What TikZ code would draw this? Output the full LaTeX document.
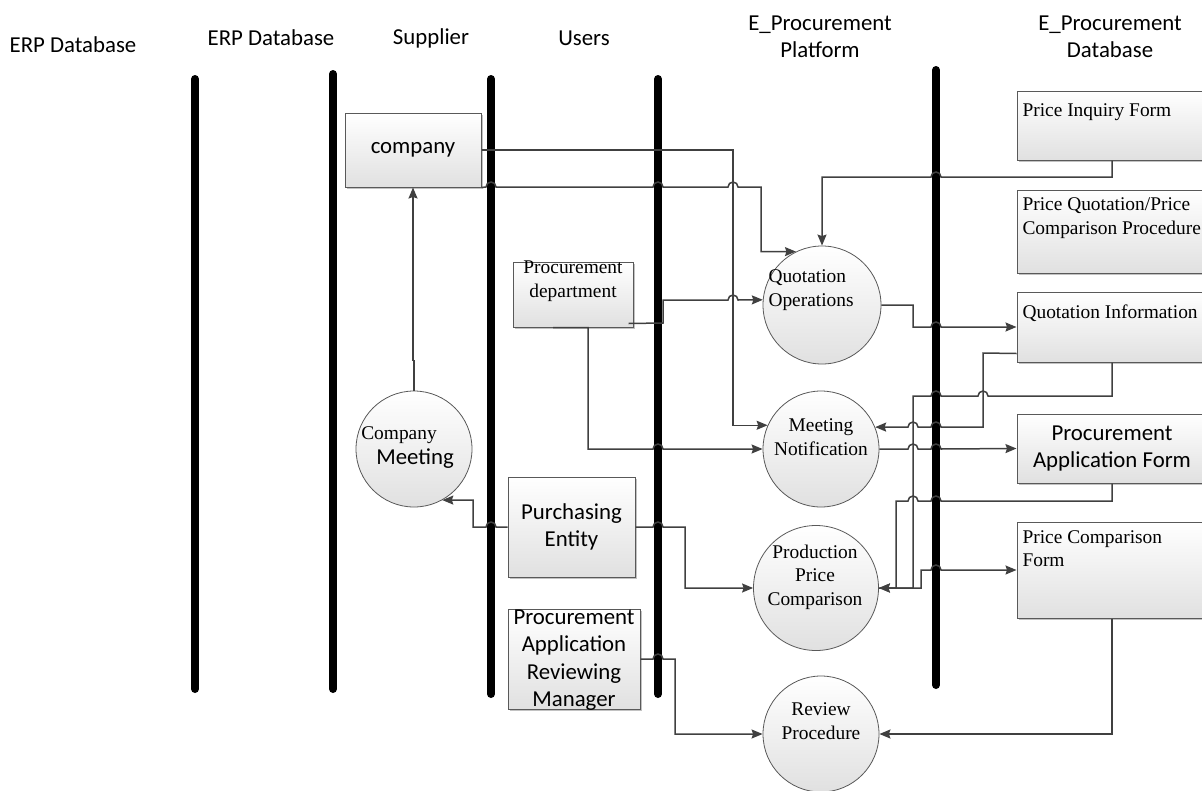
\documentclass[tikz,border=0pt]{standalone}
\usepackage{fontspec}
\setmainfont{Liberation Serif}
\newfontfamily\calfam{Carlito}
\usetikzlibrary{arrows.meta,shadows}
\newcommand\SansTxt{\calfam\fontsize{22.8}{27.5}\selectfont}
\newcommand\SerTxt{\fontsize{19.4}{23.5}\selectfont}
\begin{document}
\begin{tikzpicture}[x=1pt,y=-1pt,
  lane/.style={line width=8pt,line cap=round,black},
  conn/.style={draw=black!75,line width=1.5pt},
  arr/.style={conn,-{Stealth[length=11pt,width=9pt,inset=1.5pt]}},
  box/.style={draw=black!65,line width=1pt,top color=white,bottom color=black!12,
    drop shadow={shadow xshift=2pt,shadow yshift=-2pt,fill=black!40,opacity=.6}},
  circ/.style={circle,draw=black!65,line width=0.8pt,top color=white,bottom color=black!12,inner sep=0pt},
  stxt/.style={font=\SansTxt,align=center},
  rtxt/.style={font=\SerTxt,align=center}]
\useasboundingbox (0,0) rectangle (1202,790);

% headers
\node[stxt] (h1) at (73,45) {ERP Database};
\node[stxt] (h2) at (271,38) {ERP Database};
\node[stxt] (h3) at (431,38) {Supplier};
\node[stxt] (h4) at (584,38) {Users};
\node[stxt] (h5) at (820,37) {E\_Procurement\\Platform};
\node[stxt] (h6) at (1110,37) {E\_Procurement\\Database};

% lanes
\draw[lane] (195,79) -- (195,689);
\draw[lane] (333,74) -- (333,689);
\draw[lane] (491,79) -- (491,694);
\draw[lane] (658,79) -- (658,694);
\draw[lane] (936,70) -- (936,685);

% boxes
\node[box,minimum width=136pt,minimum height=74pt,stxt] (company) at (413,150) {company};
\node[box,minimum width=120pt,minimum height=65pt] (dept) at (573,294.5) {};
\node[rtxt] (deptt) at (573,281) {Procurement\\department};
\node[box,minimum width=127pt,minimum height=100pt,stxt] (pe) at (571.5,527) {Purchasing\\Entity};
\node[box,minimum width=132pt,minimum height=100pt] (parm) at (574,659) {};
\node[stxt] (parmt) at (574,660) {Procurement\\Application\\Reviewing\\Manager};

\node[box,minimum width=190pt,minimum height=69pt] (pif) at (1112,125.5) {};
\node[font=\SerTxt,anchor=west] (pift) at (1019,112) {Price Inquiry Form};
\node[box,minimum width=190pt,minimum height=83pt] (pqp) at (1112,231.5) {};
\node[font=\SerTxt,anchor=west,align=left] (pqpt) at (1019,218) {Price Quotation/Price\\Comparison Procedure};
\node[box,minimum width=190pt,minimum height=70pt] (qi) at (1112,327) {};
\node[font=\SerTxt,anchor=west] (qit) at (1019,313) {Quotation Information};
\node[box,minimum width=190pt,minimum height=69pt,stxt] (paf) at (1112,448.5) {Procurement\\Application Form};
\node[box,minimum width=190pt,minimum height=96pt] (pcf) at (1112,570) {};
\node[font=\SerTxt,anchor=west,align=left] (pcft) at (1019,548.5) {Price Comparison\\Form};

% circles
\node[circ,minimum size=118pt] (qo) at (822,305) {};
\node[font=\SerTxt,align=left,anchor=west] (qot) at (765,290) {Quotation\\Operations};
\node[circ,minimum size=116pt] (mn) at (821,449) {};
\node[rtxt] (mnt) at (821,437) {Meeting\\Notification};
\node[circ,minimum size=125pt] (ppc) at (816,588) {};
\node[rtxt] (ppct) at (815,577) {Production\\Price\\Comparison};
\node[circ,minimum size=116pt] (rp) at (821,734) {};
\node[rtxt] (rpt) at (821,721) {Review\\Procedure};
\node[circ,minimum size=116pt] (cm) at (414,449) {};
\node[font=\SerTxt] (cmt1) at (399,435) {Company};
\node[font=\SansTxt] (cmt2) at (415,459) {Meeting};

% connectors
\draw[arr] (company.east) -- (733,150) |- (mn.156);
\draw[arr] (company.south east) -- (486,187) arc(180:360:5) -- (653,187) arc(180:360:5)
  -- (728,187) arc(180:360:5) -- (761,187) |- (qo.116);
\draw[arr] (pif.south) -- (1112,177) -- (941,177) arc(0:-180:5) -- (822,177) -- (qo.north);
\draw[arr] ([shift={(-5,-4)}]dept.south east) -- (663,323) -- (663,300) -- (728,300)
  arc(180:360:5) -- (qo.175);
\draw[arr] ([xshift=-20pt]dept.south) -- ([xshift=15pt]dept.south) -- (588,449) -- (653,449)
  arc(180:360:5) -- (mn.west);
\draw[arr] (qo.east) -- (913,305) -- (913,327) -- (931,327) arc(180:360:5) -- (qi.west);
\draw[arr] ([yshift=9pt]qi.south west) -- (983,353) -- (983,427) -- (941,427) arc(0:-180:5)
  -- (918,427) arc(0:-180:5) -- (mn.22);
\draw[arr] (qi.south) -- (1112,396) -- (988,396) arc(0:-180:5) -- (941,396) arc(0:-180:5)
  -- (913,396) -- (913,588) -- (ppc.east);
\draw[arr] (paf.south) -- (1112,501) -- (941,501) arc(0:-180:5) -- (918,501) arc(0:-180:5)
  -- (896,501) -- (896,588) -- (ppc.east);
\draw[arr] (mn.east) -- (908,449) arc(180:360:5) -- (931,449) arc(180:360:5) -- (paf.west);
\draw[arr] (ppc.east) -- (921,588) -- (921,570) -- (931,570) arc(180:360:5) -- (pcf.west);
\draw[arr] (pe.west) -- (496,527) arc(0:-180:5) -- (473,527) |- (cm.-61);
\draw[arr] (pe.east) -- (653,527) arc(180:360:5) -- (685,527) |- (ppc.west);
\draw[arr] (cm.north) -- ++(0,-30) -| (company.south);
\draw[arr] (parm.east) -- (653,659) arc(180:360:5) -- (675,659) |- (rp.west);
\draw[arr] (pcf.south) |- (rp.east);
\end{tikzpicture}
\end{document}
